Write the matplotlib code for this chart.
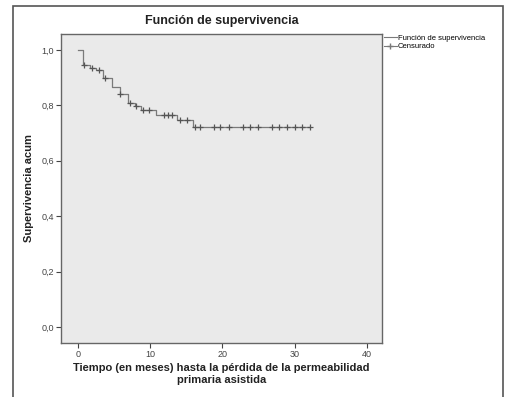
import numpy as np
import matplotlib
matplotlib.use("Agg")
from matplotlib import pyplot as plt
from matplotlib.lines import Line2D
from matplotlib.patches import Rectangle
import matplotlib.ticker as plticker

# Kaplan-Meier steps: time of each drop and level after it
step_times = [0, 0.7, 1.7, 2.6, 3.55, 4.7, 5.85, 7.0, 7.9, 8.7, 10.8, 13.7, 16.0]
step_surv = [1.0, 0.945, 0.936, 0.929, 0.90, 0.866, 0.84, 0.81, 0.797, 0.782, 0.764, 0.749, 0.722]
# censored observations (months)
censored = [0.9, 2.0, 2.95, 3.8, 5.9, 7.3, 8.1, 9.0, 9.9, 11.9, 12.5, 13.0, 14.2, 15.1,
            16.3, 16.9, 18.8, 19.7, 20.9, 22.9, 23.9, 24.9, 26.9, 27.8, 28.9, 30.0, 31.0, 32.1]
last_time = 32.1

plt.rcParams['font.family'] = ['Liberation Sans', 'DejaVu Sans']

fig = plt.figure(figsize=(5.06, 3.97), dpi=100)
ax = fig.add_axes([61/506, 1-343/397, (382-61)/506, (343-34)/397])
ax.set_facecolor('#EAEAEA')

xs = step_times + [last_time]
ys = step_surv + [step_surv[-1]]
ax.step(xs, ys, where='post', color='#7a7a7a', lw=0.9)

# censor marks sit on the curve
idx = np.searchsorted(step_times, censored, side='right') - 1
cens_y = np.array(step_surv)[idx]
ax.plot(censored, cens_y, ls='none', marker='+', ms=5, mew=0.9, color='#555555')

ax.set_xlim(-2.3, 42.1)
ax.set_ylim(-0.058, 1.058)
ax.xaxis.set_major_locator(plticker.MultipleLocator(10))
ax.yaxis.set_major_locator(plticker.MultipleLocator(0.2))
ax.yaxis.set_major_formatter(plticker.FuncFormatter(lambda v, p: f'{v:.1f}'.replace('.', ',')))
ax.tick_params(direction='out', length=3.5, width=0.8, labelsize=6.5, colors='#444444', pad=1.5)
for s in ax.spines.values():
    s.set_color('#666666')
    s.set_linewidth(1.0)

ax.set_title('Función de supervivencia', fontsize=9, fontweight='bold', color='#222222', pad=7)
ax.set_ylabel('Supervivencia acum', fontsize=8, fontweight='bold', color='#222222', labelpad=5)
ax.set_xlabel('Tiempo (en meses) hasta la pérdida de la permeabilidad\nprimaria asistida',
              fontsize=8, fontweight='bold', color='#222222', labelpad=3, linespacing=1.2)

handles = [Line2D([], [], color='#7a7a7a', lw=0.8, drawstyle='steps-post'),
           Line2D([], [], color='#7a7a7a', lw=0.8, marker='+', ms=5)]
ax.legend(handles, ['Función de supervivencia', 'Censurado'], loc='upper left',
          bbox_to_anchor=(1.0, 1.005), frameon=False, fontsize=5.5, handlelength=1.6,
          handletextpad=0.2, labelspacing=0.1, borderaxespad=0.2, borderpad=0.1)

# outer frame of the original picture
fig.patches.append(Rectangle((13/506, -0.05), (503-13)/506, 1.05-6/397, transform=fig.transFigure,
                             fill=False, edgecolor='#555555', lw=1.2))

fig.savefig('out.png', dpi=100)
